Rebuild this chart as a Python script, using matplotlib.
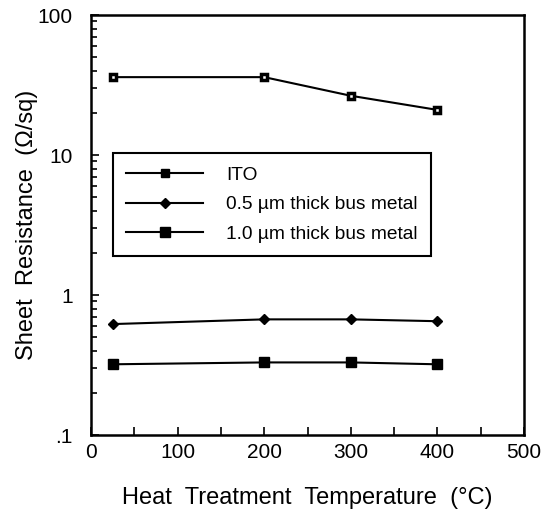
import numpy as np
import matplotlib
matplotlib.use("Agg")
import matplotlib.pyplot as plt
from matplotlib.ticker import FixedLocator, LogLocator, NullFormatter

# data
temps = [25, 200, 300, 400]
ito = [36, 36, 26.5, 21]
bus_05 = [0.62, 0.67, 0.67, 0.65]
bus_10 = [0.32, 0.33, 0.33, 0.32]
labels = ["ITO", "0.5 \u00b5m thick bus metal", "1.0 \u00b5m thick bus metal"]

plt.rcParams['font.family'] = ['Liberation Sans', 'DejaVu Sans']

fig = plt.figure(figsize=(5.47, 5.11), dpi=100)
ax = fig.add_axes([0.1664, 0.1487, 0.7916, 0.8219])

# ITO squares are black with a small white spot in the middle
ax.plot(temps, ito, "-s", color="black", lw=1.5, markersize=4.2,
        markerfacecolor="white", markeredgewidth=2.5, label=labels[0])
ax.plot(temps, bus_05, "-D", color="black", lw=1.5, markersize=5, label=labels[1])
ax.plot(temps, bus_10, "-s", color="black", lw=1.5, markersize=6.5, label=labels[2])

ax.set_yscale("log")
ax.set_ylim(0.1, 100)
ax.set_xlim(0, 500)

ax.xaxis.set_major_locator(FixedLocator([0, 100, 200, 300, 400, 500]))
ax.xaxis.set_minor_locator(FixedLocator(np.arange(50, 500, 100)))
ax.set_yticks([0.1, 1, 10, 100])
ax.set_yticklabels([".1", "1", "10", "100"])
ax.yaxis.set_minor_locator(LogLocator(base=10, subs=np.arange(2, 10)))
ax.yaxis.set_minor_formatter(NullFormatter())

ax.tick_params(which="both", direction="in", width=1.2, labelsize=15)
ax.tick_params(which="major", length=6)
ax.tick_params(which="minor", length=4)
ax.tick_params(axis="x", which="minor", length=6)
ax.tick_params(axis="x", pad=6)
ax.tick_params(axis="y", pad=13)

for s in ax.spines.values():
    s.set_linewidth(1.8)

ax.set_xlabel("Heat  Treatment  Temperature  (\u00b0C)", fontsize=17, labelpad=18)
ax.set_ylabel("Sheet  Resistance  (\u03a9/sq)", fontsize=17, labelpad=0)

leg = ax.legend(loc="upper left", bbox_to_anchor=(0.0508, 0.671), borderaxespad=0,
                fontsize=13.8, frameon=True, fancybox=False, edgecolor="black",
                framealpha=1, handlelength=4.0, handletextpad=1.2, borderpad=0.7,
                labelspacing=0.62)
leg.get_frame().set_linewidth(1.5)
# legend shows the ITO marker filled
leg.legend_handles[0].set_markerfacecolor("black")
leg.legend_handles[0].set_markersize(6)
leg.legend_handles[0].set_markeredgewidth(1)

fig.savefig("out.png", dpi=100)
